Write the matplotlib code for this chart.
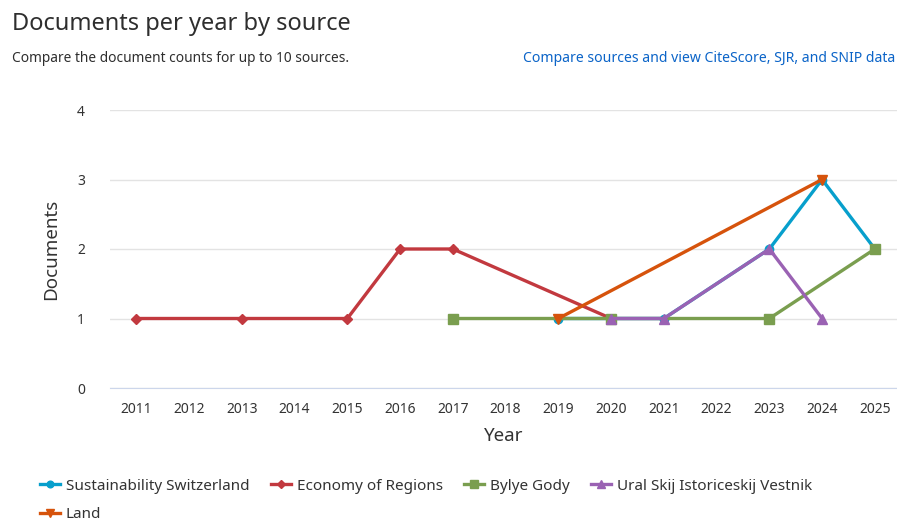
import matplotlib
matplotlib.use("Agg")
import matplotlib.pyplot as plt
import numpy as np

plt.rcParams['font.family'] = ['Noto Sans', 'DejaVu Sans']

years = ['2011', '2012', '2013', '2014', '2015', '2016', '2017', '2018',
         '2019', '2020', '2021', '2022', '2023', '2024', '2025']

# (year, count) per source
sustain_years = ['2019', '2021', '2023', '2024', '2025']
sustain_vals = [1, 1, 2, 3, 2]
econ_years = ['2011', '2013', '2015', '2016', '2017', '2020']
econ_vals = [1, 1, 1, 2, 2, 1]
bylye_years = ['2017', '2020', '2023', '2025']
bylye_vals = [1, 1, 1, 2]
ural_years = ['2020', '2021', '2023', '2024']
ural_vals = [1, 1, 2, 1]
land_years = ['2019', '2024']
land_vals = [1, 3]

series = [
    ('Sustainability Switzerland', sustain_years, sustain_vals, '#079fcc', 'o', 6),
    ('Economy of Regions', econ_years, econ_vals, '#c2393f', 'D', 5),
    ('Bylye Gody', bylye_years, bylye_vals, '#7a9e4f', 's', 6.5),
    ('Ural Skij Istoriceskij Vestnik', ural_years, ural_vals, '#9a62b3', '^', 7),
    ('Land', land_years, land_vals, '#d6530c', 'v', 7),
]

fig = plt.figure(figsize=(8.97, 5.23), dpi=100)
ax = fig.add_axes([110 / 897, 1 - 388 / 523, 787 / 897, 278 / 523])

idx = {y: i for i, y in enumerate(years)}
lines = []
for name, ys, vals, col, mk, ms in series:
    xs = [idx[y] for y in ys]
    ln, = ax.plot(xs, vals, color=col, lw=2.4, marker=mk, ms=ms, label=name,
                  clip_on=False, zorder=3)
    lines.append(ln)

ax.set_xlim(-0.5, 14.42)
ax.set_ylim(0, 4)
ax.set_xticks(range(len(years)))
ax.set_xticklabels(years)
ax.set_yticks([0, 1, 2, 3, 4])
ax.tick_params(axis='both', length=0, labelsize=10, colors='#333333')
ax.tick_params(axis='y', pad=18)
ax.tick_params(axis='x', pad=10)
ax.grid(axis='y', color='#e3e3e3', lw=1)
ax.set_axisbelow(True)
for s in ['top', 'right', 'left']:
    ax.spines[s].set_visible(False)
ax.spines['bottom'].set_color('#ccd6eb')
ax.set_xlabel('Year', fontsize=13.5, color='#333333', labelpad=7)
ax.set_ylabel('Documents', fontsize=13.5, color='#333333', labelpad=12)

fig.text(12 / 897, 1 - 24 / 523, 'Documents per year by source', fontsize=17,
         color='#2e2e2e', va='center', ha='left')
fig.text(12 / 897, 1 - 59 / 523, 'Compare the document counts for up to 10 sources.',
         fontsize=9.9, color='#2e2e2e', va='center', ha='left')
fig.text(895 / 897, 1 - 59 / 523, 'Compare sources and view CiteScore, SJR, and SNIP data',
         fontsize=10.1, color='#0b64c8', va='center', ha='right')

# legend fills column-wise; reorder so it reads row by row
order = [0, 4, 1, 2, 3]
fig.legend([lines[i] for i in order], [series[i][0] for i in order],
           loc='upper left', bbox_to_anchor=(26 / 897, 1 - 465 / 523), ncol=4,
           frameon=False, fontsize=11, handlelength=1.3, handletextpad=0.4,
           columnspacing=1.4, labelspacing=0.9, markerscale=0.8,
           labelcolor='#333333')

fig.savefig('out.png', dpi=100)
